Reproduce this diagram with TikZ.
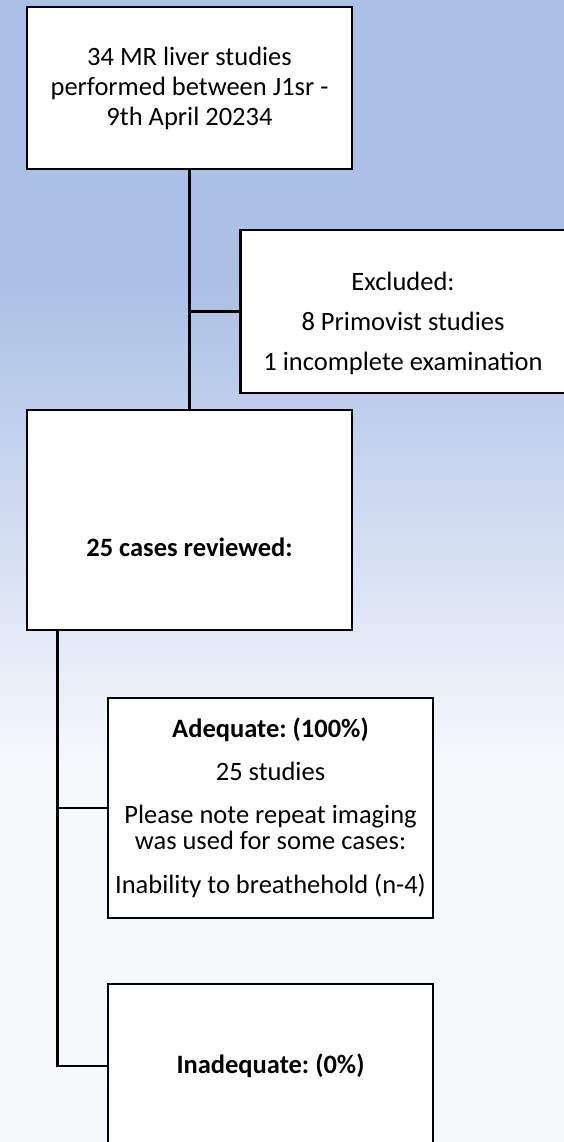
\documentclass[tikz,border=0pt]{standalone}
\usepackage{fontspec}
\setmainfont{Carlito}
\definecolor{bgtop}{RGB}{171,192,230}
\definecolor{bgbot}{RGB}{246,248,252}
\frenchspacing
\begin{document}
\begin{tikzpicture}[x=1pt,y=-1pt,
  box/.style={draw=black, line width=2.8pt, fill=white, minimum width=325pt,
    inner sep=0pt, align=center, text=black},
  lbl/.style={inner sep=0pt, align=center, text=black},
  conn/.style={draw=black, line width=2.8pt}]
\clip (0,0) rectangle (564,1142);
% background gradient
\fill[bgtop] (0,0) rectangle (564,281);
\fill[bgbot] (0,759) rectangle (564,1142);
\shade[top color=bgtop, bottom color=bgbot] (0,280) rectangle (564,760);
% boxes
\node[box, minimum height=162pt, font=\fontsize{26.5}{30}\selectfont] (b1) at (189.5,88)
  {34 MR liver studies\\performed between J1sr -\\9th April 20234};
\node[box, minimum height=163pt] (b2) at (403,311.5) {};
\node[lbl, font=\fontsize{26.5}{40}\selectfont] (t2) at (403,323)
  {Excluded:\\8 Primovist studies\\1 incomplete examination};
\node[box, minimum height=220pt] (b3) at (189.5,520) {};
\node[lbl, font=\fontsize{26.5}{30}\selectfont\bfseries] (t3) at (189.5,547) {25 cases reviewed:};
\node[box, minimum height=220pt, font=\fontsize{26.5}{26}\selectfont] (b4) at (270.5,808)
  {\textbf{Adequate: (100\%)}\\[17pt]25 studies\\[17pt]Please note repeat imaging\\was used for some cases:\\[18pt]Inability to breathehold (n-4)};
\node[box, minimum height=164pt, font=\fontsize{26.5}{30}\selectfont\bfseries] (b5) at (270.5,1066)
  {Inadequate: (0\%)};
% connectors
\draw[conn] (b1.south) -- (b3.north);
\draw[conn] (b1.south |- b2.west) -- (b2.west);
\coordinate (sp) at ([xshift=32pt]b3.south west);
\draw[conn] (sp) |- (b5.west);
\draw[conn] (sp |- b4.west) -- (b4.west);
\end{tikzpicture}
\end{document}
